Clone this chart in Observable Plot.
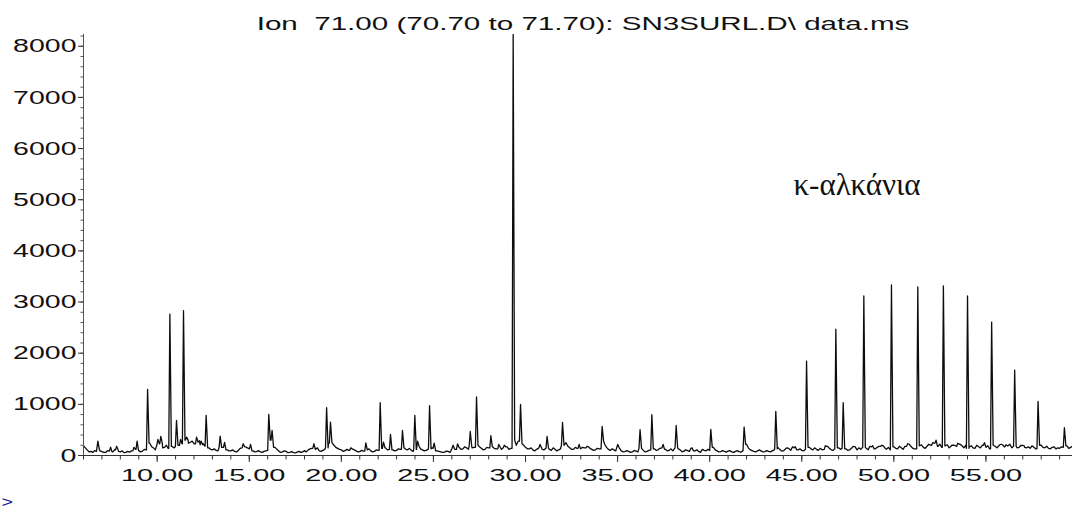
<!DOCTYPE html>
<html>
<head>
<meta charset="utf-8">
<script src="https://cdn.jsdelivr.net/npm/d3@7"></script>
<script src="https://cdn.jsdelivr.net/npm/@observablehq/plot@0.6"></script>
<style>
  body { margin: 0; background: #fff; }
  svg { display: block; }
  svg text { white-space: pre; }
</style>
</head>
<body>
<script>
// Extracted ion chromatogram, m/z 71 (alkane fragment), abundance vs retention time (min)
const titleText = "Ion  71.00 (70.70 to 71.70): SN3SURL.D\\ data.ms";
const annotationText = "κ-αλκάνια";
const annotationTime = 48.0;
const annotationLevel = 5280;
const markerText = ">";

// Detector baseline, sampled every 0.2 min from 6.0 min
const baseStart = 6.0;
const baseStep = 0.2;
const baseline = [
  190, 110, 80, 95, 120, 75, 60, 85, 70, 110,        // 6.0 – 7.8
  70, 55, 80, 90, 120, 95, 85, 110, 240, 150,        // 8.0 – 9.8
  200, 230, 160, 140, 180, 170, 200, 230, 300, 260,  // 10.0 – 11.8
  230, 260, 210, 180, 150, 110, 100, 150, 160, 110,  // 12.0 – 13.8
  90, 80, 95, 150, 170, 130, 90, 75, 70, 80,         // 14.0 – 15.8
  100, 300, 160, 90, 70, 80, 60, 55, 65, 60,         // 16.0 – 17.8
  95, 110, 140, 120, 90, 100, 150, 250, 200, 140,    // 18.0 – 19.8
  110, 95, 100, 130, 90, 75, 85, 110, 90, 80,        // 20.0 – 21.8
  100, 140, 150, 120, 110, 100, 120, 150, 110, 100,  // 22.0 – 23.8
  120, 180, 110, 100, 130, 140, 90, 70, 65, 80,      // 24.0 – 25.8
  140, 120, 160, 130, 150, 180, 160, 200, 140, 120,  // 26.0 – 27.8
  150, 170, 130, 160, 150, 170, 140, 300, 280, 230,  // 28.0 – 29.8
  160, 130, 110, 120, 150, 110, 140, 100, 120, 110,  // 30.0 – 31.8
  200, 250, 150, 120, 140, 130, 150, 170, 120, 110,  // 32.0 – 33.8
  130, 280, 160, 100, 110, 150, 90, 75, 80, 70,      // 34.0 – 35.8
  85, 140, 100, 80, 110, 130, 110, 150, 120, 100,    // 36.0 – 37.8
  90, 150, 110, 85, 95, 140, 90, 80, 120, 90,        // 38.0 – 39.8
  100, 160, 90, 75, 80, 85, 70, 80, 75, 95,          // 40.0 – 41.8
  220, 110, 80, 90, 85, 75, 80, 90, 130, 120,        // 42.0 – 43.8
  90, 140, 100, 150, 110, 100, 120, 160, 110, 120,   // 44.0 – 45.8
  140, 120, 180, 110, 130, 150, 140, 130, 110, 170,  // 46.0 – 47.8
  110, 120, 160, 110, 170, 130, 180, 190, 120, 110,  // 48.0 – 49.8
  170, 130, 150, 180, 220, 150, 130, 190, 160, 180,  // 50.0 – 51.8
  200, 240, 180, 160, 190, 150, 200, 180, 220, 150,  // 52.0 – 53.8
  140, 190, 140, 170, 200, 160, 130, 200, 150, 210,  // 54.0 – 55.8
  170, 190, 150, 180, 160, 190, 150, 140, 160, 130,  // 56.0 – 57.8
  200, 150, 140, 160, 130, 140, 160, 190, 160, 150   // 58.0 – 59.8
];
// Intermediate baseline samples at 6.1, 6.3, 6.5 ... min
const baselineOdd = [
  150, 70, 60, 80, 90, 60, 95, 60, 120, 80,          // 6.1 – 7.9
  90, 60, 65, 110, 100, 70, 120, 90, 170, 110,       // 8.1 – 9.9
  170, 150, 200, 130, 150, 220, 160, 210, 240, 280,  // 10.1 – 11.9
  200, 290, 230, 150, 120, 130, 90, 120, 180, 90,    // 12.1 – 13.9
  110, 70, 140, 120, 150, 100, 70, 95, 60, 90,       // 14.1 – 15.9
  150, 200, 120, 60, 90, 55, 75, 50, 80, 70,         // 16.1 – 17.9
  70, 130, 100, 150, 80, 120, 220, 180, 160, 120,    // 18.1 – 19.9
  80, 120, 90, 110, 70, 100, 70, 130, 70, 110,       // 20.1 – 21.9
  120, 170, 110, 140, 90, 130, 90, 120, 140, 80,     // 22.1 – 23.9
  150, 130, 90, 120, 150, 110, 80, 60, 85, 60,       // 24.1 – 25.9
  110, 150, 120, 170, 120, 150, 220, 170, 110, 160,  // 26.1 – 27.9
  130, 140, 180, 120, 190, 120, 180, 200, 350, 200,  // 28.1 – 29.9
  130, 150, 90, 140, 120, 90, 120, 150, 90, 130,     // 30.1 – 31.9
  280, 180, 120, 160, 110, 160, 120, 140, 100, 140,  // 32.1 – 33.9
  100, 220, 120, 130, 90, 120, 70, 95, 60, 100,      // 34.1 – 35.9
  70, 110, 70, 100, 140, 100, 140, 120, 90, 130,     // 36.1 – 37.9
  120, 130, 70, 110, 80, 110, 110, 60, 100, 120,     // 38.1 – 39.9
  130, 110, 70, 95, 65, 95, 60, 95, 65, 130,         // 40.1 – 41.9
  150, 95, 70, 110, 70, 95, 70, 110, 160, 90,        // 42.1 – 43.9
  120, 110, 170, 90, 130, 90, 140, 130, 150, 100,    // 44.1 – 45.9
  110, 160, 140, 100, 160, 120, 160, 100, 140, 130,  // 46.1 – 47.9
  150, 100, 140, 180, 120, 160, 140, 150, 160, 140,  // 48.1 – 49.9
  140, 180, 120, 160, 190, 130, 170, 210, 140, 220,  // 50.1 – 51.9
  170, 200, 220, 140, 210, 180, 160, 140, 190, 200,  // 52.1 – 53.9
  170, 150, 200, 150, 180, 190, 160, 180, 190, 150,  // 54.1 – 55.9
  140, 220, 170, 150, 200, 160, 170, 190, 130, 170,  // 56.1 – 57.9
  160, 180, 130, 170, 150, 170, 130, 140, 180, 160   // 58.1 – 59.9
];

// Resolved peaks: apex retention time (min) and abundance
const peakTimes = [
  6.78, 7.47, 7.80, 8.74, 8.91, 9.48, 10.04, 10.20, 10.69, 11.05,
  11.27, 11.43, 11.60, 12.14, 12.39, 12.66, 13.42, 13.66, 14.67, 15.07,
  16.06, 16.24, 18.51, 19.20, 19.41, 20.51, 21.33, 22.11, 22.29, 22.67,
  23.32, 23.99, 24.14, 24.79, 25.04, 26.07, 26.31, 27.00, 27.34, 28.12,
  28.55, 28.85, 29.33, 29.73, 30.79, 31.17, 32.01, 32.91, 33.34, 34.16,
  35.01, 36.22, 36.86, 37.47, 38.18, 39.04, 40.06, 41.87, 43.59, 44.20,
  44.65, 45.26, 46.28, 46.85, 47.25, 47.82, 48.37, 48.85, 49.35, 49.87,
  50.75, 51.30, 52.11, 52.29, 52.69, 53.20, 53.47, 54.00, 54.92, 55.31,
  55.82, 56.09, 56.56, 57.00, 57.83, 59.26
];
const peakHeights = [
  281, 163, 180, 160, 280, 1294, 314, 372, 2765, 686,
  314, 2830, 360, 360, 280, 784, 379, 255, 229, 216,
  804, 490, 229, 935, 654, 150, 248, 1032, 262, 411,
  490, 784, 281, 974, 242, 200, 229, 470, 1144, 386,
  216, 200, 8230, 1000, 216, 372, 647, 216, 177, 569,
  216, 503, 797, 216, 588, 150, 510, 556, 863, 150,
  170, 1843, 190, 2470, 1033, 180, 3118, 190, 200, 3333,
  230, 3294, 250, 300, 3314, 200, 240, 3118, 250, 2608,
  220, 210, 1667, 200, 1059, 543
];

// Axis ticks
const yMajorTicks = [0, 1000, 2000, 3000, 4000, 5000, 6000, 7000, 8000];
const yMinorTicks = d3.range(0, 8201, 200);
const xLabelTicks = [10, 15, 20, 25, 30, 35, 40, 45, 50, 55];
const xMinorTicks = d3.range(6, 60, 1);

// Assemble the trace: baseline samples plus a narrow triangle for each peak
const riseTime = 0.06, tailTime = 0.08;
const baseAt = (t) => baseline[Math.max(0, Math.min(baseline.length - 1, Math.round((t - baseStart) / baseStep)))];
const inPeak = (t) => peakTimes.some((p) => t > p - riseTime - 0.02 && t < p + tailTime + 0.02);
const trace = [];
baseline.forEach((v, i) => {
  const t = +(baseStart + i * baseStep).toFixed(2);
  if (!inPeak(t)) trace.push({time: t, abundance: v});
});
baselineOdd.forEach((v, i) => {
  const t = +(baseStart + baseStep / 2 + i * baseStep).toFixed(2);
  if (!inPeak(t)) trace.push({time: t, abundance: v});
});
peakTimes.forEach((p, i) => {
  trace.push({time: p - riseTime, abundance: baseAt(p - riseTime)});
  trace.push({time: p, abundance: peakHeights[i]});
  trace.push({time: p + tailTime, abundance: baseAt(p + tailTime)});
});
trace.sort((a, b) => a.time - b.time);

const chart = Plot.plot({
  width: 1072,
  height: 511,
  marginTop: 34,
  marginBottom: 56,
  marginLeft: 83,
  marginRight: 0,
  x: {domain: [6.0, 59.7], label: null},
  y: {domain: [0, 8230], label: null},
  style: {fontFamily: "'Liberation Sans', Arial, sans-serif", color: "#111", background: "#fff"},
  marks: [
    Plot.line(trace, {x: "time", y: "abundance", stroke: "#0d0d0d", strokeWidth: 1.3, clip: true}),
    Plot.ruleY([0], {stroke: "#333", strokeWidth: 1}),
    Plot.frame({anchor: "left", stroke: "#555"}),
    Plot.axisY(yMinorTicks, {tickSize: 2.5, tickFormat: () => "", label: null, stroke: "#555"}),
    Plot.axisY(yMajorTicks, {tickSize: 5, tickPadding: 2, fontSize: 19, tickFormat: (d) => String(d), label: null, stroke: "#333"}),
    Plot.axisX(xMinorTicks, {tickSize: 4.5, tickFormat: () => "", label: null, stroke: "#333"}),
    Plot.axisX(xLabelTicks, {tickSize: 7, tickPadding: 6, fontSize: 17, tickFormat: (d) => d.toFixed(2), label: null, stroke: "#333"}),
    Plot.text([titleText], {frameAnchor: "top", lineAnchor: "middle", dx: 5, dy: -10.5, fontSize: 17.5, fill: "#111"}),
    Plot.text([annotationText], {x: () => annotationTime, y: () => annotationLevel, fontFamily: "'Liberation Serif', 'Times New Roman', serif", fontSize: 31, fill: "#111"}),
    Plot.text([markerText], {frameAnchor: "bottom-left", textAnchor: "start", lineAnchor: "middle", dx: -82, dy: 47, fontSize: 14, fill: "#1c1ca0"})
  ]
});
document.body.append(chart);

// Widen the axis and title lettering horizontally
function stretchText(t, k) {
  const L = t.getComputedTextLength();
  if (L > 0) {
    t.setAttribute("textLength", (L * k).toFixed(1));
    t.setAttribute("lengthAdjust", "spacingAndGlyphs");
  }
}
chart.querySelectorAll('g[aria-label="y-axis tick label"] text').forEach((t) => stretchText(t, 1.5));
chart.querySelectorAll('g[aria-label="x-axis tick label"] text').forEach((t) => stretchText(t, 1.7));
chart.querySelectorAll("text").forEach((t) => {
  if (t.textContent === titleText) stretchText(t, 1.69);
  if (t.textContent === markerText) stretchText(t, 1.4);
});
</script>
</body>
</html>
